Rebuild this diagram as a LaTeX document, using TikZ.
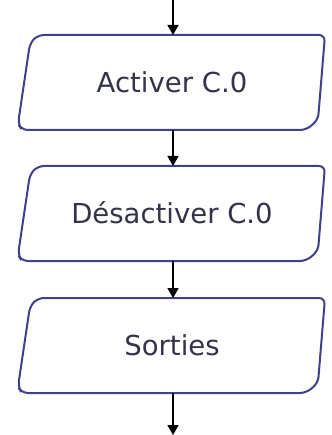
\documentclass[tikz,border=0pt]{standalone}
\usepackage{fontspec}
\setmainfont{DejaVu Sans}
\usetikzlibrary{arrows.meta}
\definecolor{boxline}{HTML}{40408C}
\definecolor{txt}{HTML}{33334A}
\tikzset{
  flow/.style={draw=boxline, line width=2pt, fill=white, rounded corners=6pt},
  lbl/.style={text=txt, font=\fontsize{27.5}{32}\selectfont, inner sep=0pt},
  conn/.style={draw=black, line width=1.6pt, -{Triangle[length=10pt,width=11pt]}}
}
\newcommand{\iobox}[3]{%
  % #1 name, #2 top y, #3 text
  \draw[flow] (38,#2) -- (325,#2) -- (318,#2+85) -- (306,#2+95)
     -- (22,#2+95) -- (18,#2+89) -- (30,#2+8) -- cycle;
  \coordinate (#1top) at (173,#2);
  \coordinate (#1bot) at (173,#2+95);
  \node[lbl] (#1) at (172,#2+47) {#3};
}
\begin{document}
\begin{tikzpicture}[x=1pt,y=-1pt]
\useasboundingbox (0,0) rectangle (331,435);
\iobox{b1}{35}{Activer C.0}
\iobox{b2}{166}{Désactiver C.0}
\iobox{b3}{298}{Sorties}
\coordinate (start) at (173,0);
\coordinate (end) at (173,435);
\draw[conn] (start) -- (b1top);
\draw[conn] (b1bot) -- (b2top);
\draw[conn] (b2bot) -- (b3top);
\draw[conn] (b3bot) -- (end);
\end{tikzpicture}
\end{document}
